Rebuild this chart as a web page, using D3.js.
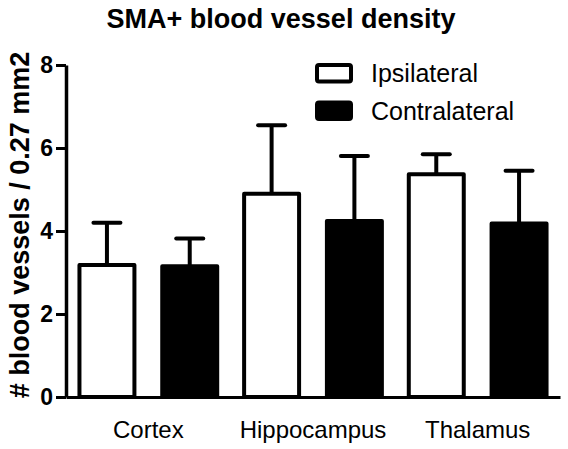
<!DOCTYPE html>
<html><head><meta charset="utf-8">
<script src="https://cdn.jsdelivr.net/npm/d3@7"></script>
<style>
html,body{margin:0;padding:0;background:#fff;}
svg{display:block;font-family:"Liberation Sans",Arial,sans-serif;}
</style></head>
<body>
<svg id="chart" width="568" height="449"></svg>
<script>
const categories = ["Cortex", "Hippocampus", "Thalamus"];
const seriesNames = ["Ipsilateral", "Contralateral"];
const ipsiMean = [3.18, 4.90, 5.37];
const ipsiSD = [1.02, 1.65, 0.48];
const contraMean = [3.15, 4.24, 4.18];
const contraSD = [0.67, 1.57, 1.27];
const yTicks = [0, 2, 4, 6, 8];
const titleText = "SMA+ blood vessel density";
const yLabel = "# blood vessels / 0.27 mm2";

const svg = d3.select("#chart");
const x0 = d3.scaleBand().domain(categories).range([66, 560]).padding(0);
const x1 = d3.scaleBand().domain(seriesNames).range([0, x0.bandwidth()])
  .paddingInner(0.336).paddingOuter(0.1625);
const y = d3.scaleLinear().domain([0, 8]).range([397, 65]);

const rows = [];
categories.forEach((c, i) => {
  rows.push({cat: c, s: seriesNames[0], v: ipsiMean[i], sd: ipsiSD[i], fill: "#fff"});
  rows.push({cat: c, s: seriesNames[1], v: contraMean[i], sd: contraSD[i], fill: "#000"});
});

// bars
svg.append("g").selectAll("rect").data(rows).join("rect")
  .attr("x", d => x0(d.cat) + x1(d.s))
  .attr("y", d => y(d.v))
  .attr("width", x1.bandwidth())
  .attr("height", d => y(0) - y(d.v))
  .attr("fill", d => d.fill)
  .attr("stroke", "#000")
  .attr("stroke-width", 4)
  .attr("stroke-linejoin", "round");

// error bars
const eb = svg.append("g").attr("stroke", "#000").attr("stroke-width", 4);
eb.selectAll("line.v").data(rows).join("line").attr("class", "v")
  .attr("x1", d => x0(d.cat) + x1(d.s) + x1.bandwidth() / 2)
  .attr("x2", d => x0(d.cat) + x1(d.s) + x1.bandwidth() / 2)
  .attr("y1", d => y(d.v))
  .attr("y2", d => y(d.v + d.sd));
eb.selectAll("line.c").data(rows).join("line").attr("class", "c")
  .attr("stroke-linecap", "round")
  .attr("x1", d => x0(d.cat) + x1(d.s) + x1.bandwidth() / 2 - 13.5)
  .attr("x2", d => x0(d.cat) + x1(d.s) + x1.bandwidth() / 2 + 13.5)
  .attr("y1", d => y(d.v + d.sd))
  .attr("y2", d => y(d.v + d.sd));

// y axis
const yAxis = svg.append("g").attr("transform", "translate(66,0)")
  .call(d3.axisLeft(y).tickValues(yTicks).tickSize(10).tickSizeOuter(0).tickPadding(3));
yAxis.select(".domain").attr("stroke-width", 3.5);
yAxis.selectAll(".tick line").attr("stroke-width", 3);
yAxis.selectAll(".tick text").attr("font-size", 23).attr("font-weight", "bold")
  .attr("fill", "#000").attr("font-family", "Liberation Sans, Arial, sans-serif");

// x axis
const xAxis = svg.append("g").attr("transform", "translate(0,397)")
  .call(d3.axisBottom(x0).tickSize(0).tickSizeOuter(0).tickPadding(24));
xAxis.select(".domain").attr("stroke-width", 3);
xAxis.selectAll(".tick text").attr("font-size", 24).attr("fill", "#000")
  .attr("font-family", "Liberation Sans, Arial, sans-serif");

// title
svg.append("text").attr("x", 281).attr("y", 28).attr("text-anchor", "middle")
  .attr("font-size", 27).attr("font-weight", "bold").text(titleText);

// y label
svg.append("text").attr("transform", "translate(29,225) rotate(-90)")
  .attr("text-anchor", "middle").attr("font-size", 27).attr("font-weight", "bold")
  .text(yLabel);

// legend
const legendFill = ["#fff", "#000"];
const lg = svg.append("g");
seriesNames.forEach((s, i) => {
  const yy = 65 + i * 37.5;
  lg.append("rect").attr("x", 317).attr("y", yy).attr("width", 34).attr("height", 16.5)
    .attr("rx", 2).attr("fill", legendFill[i]).attr("stroke", "#000").attr("stroke-width", 4);
  lg.append("text").attr("x", 371).attr("y", yy + 17).attr("font-size", 25).text(s);
});
</script>
</body></html>
